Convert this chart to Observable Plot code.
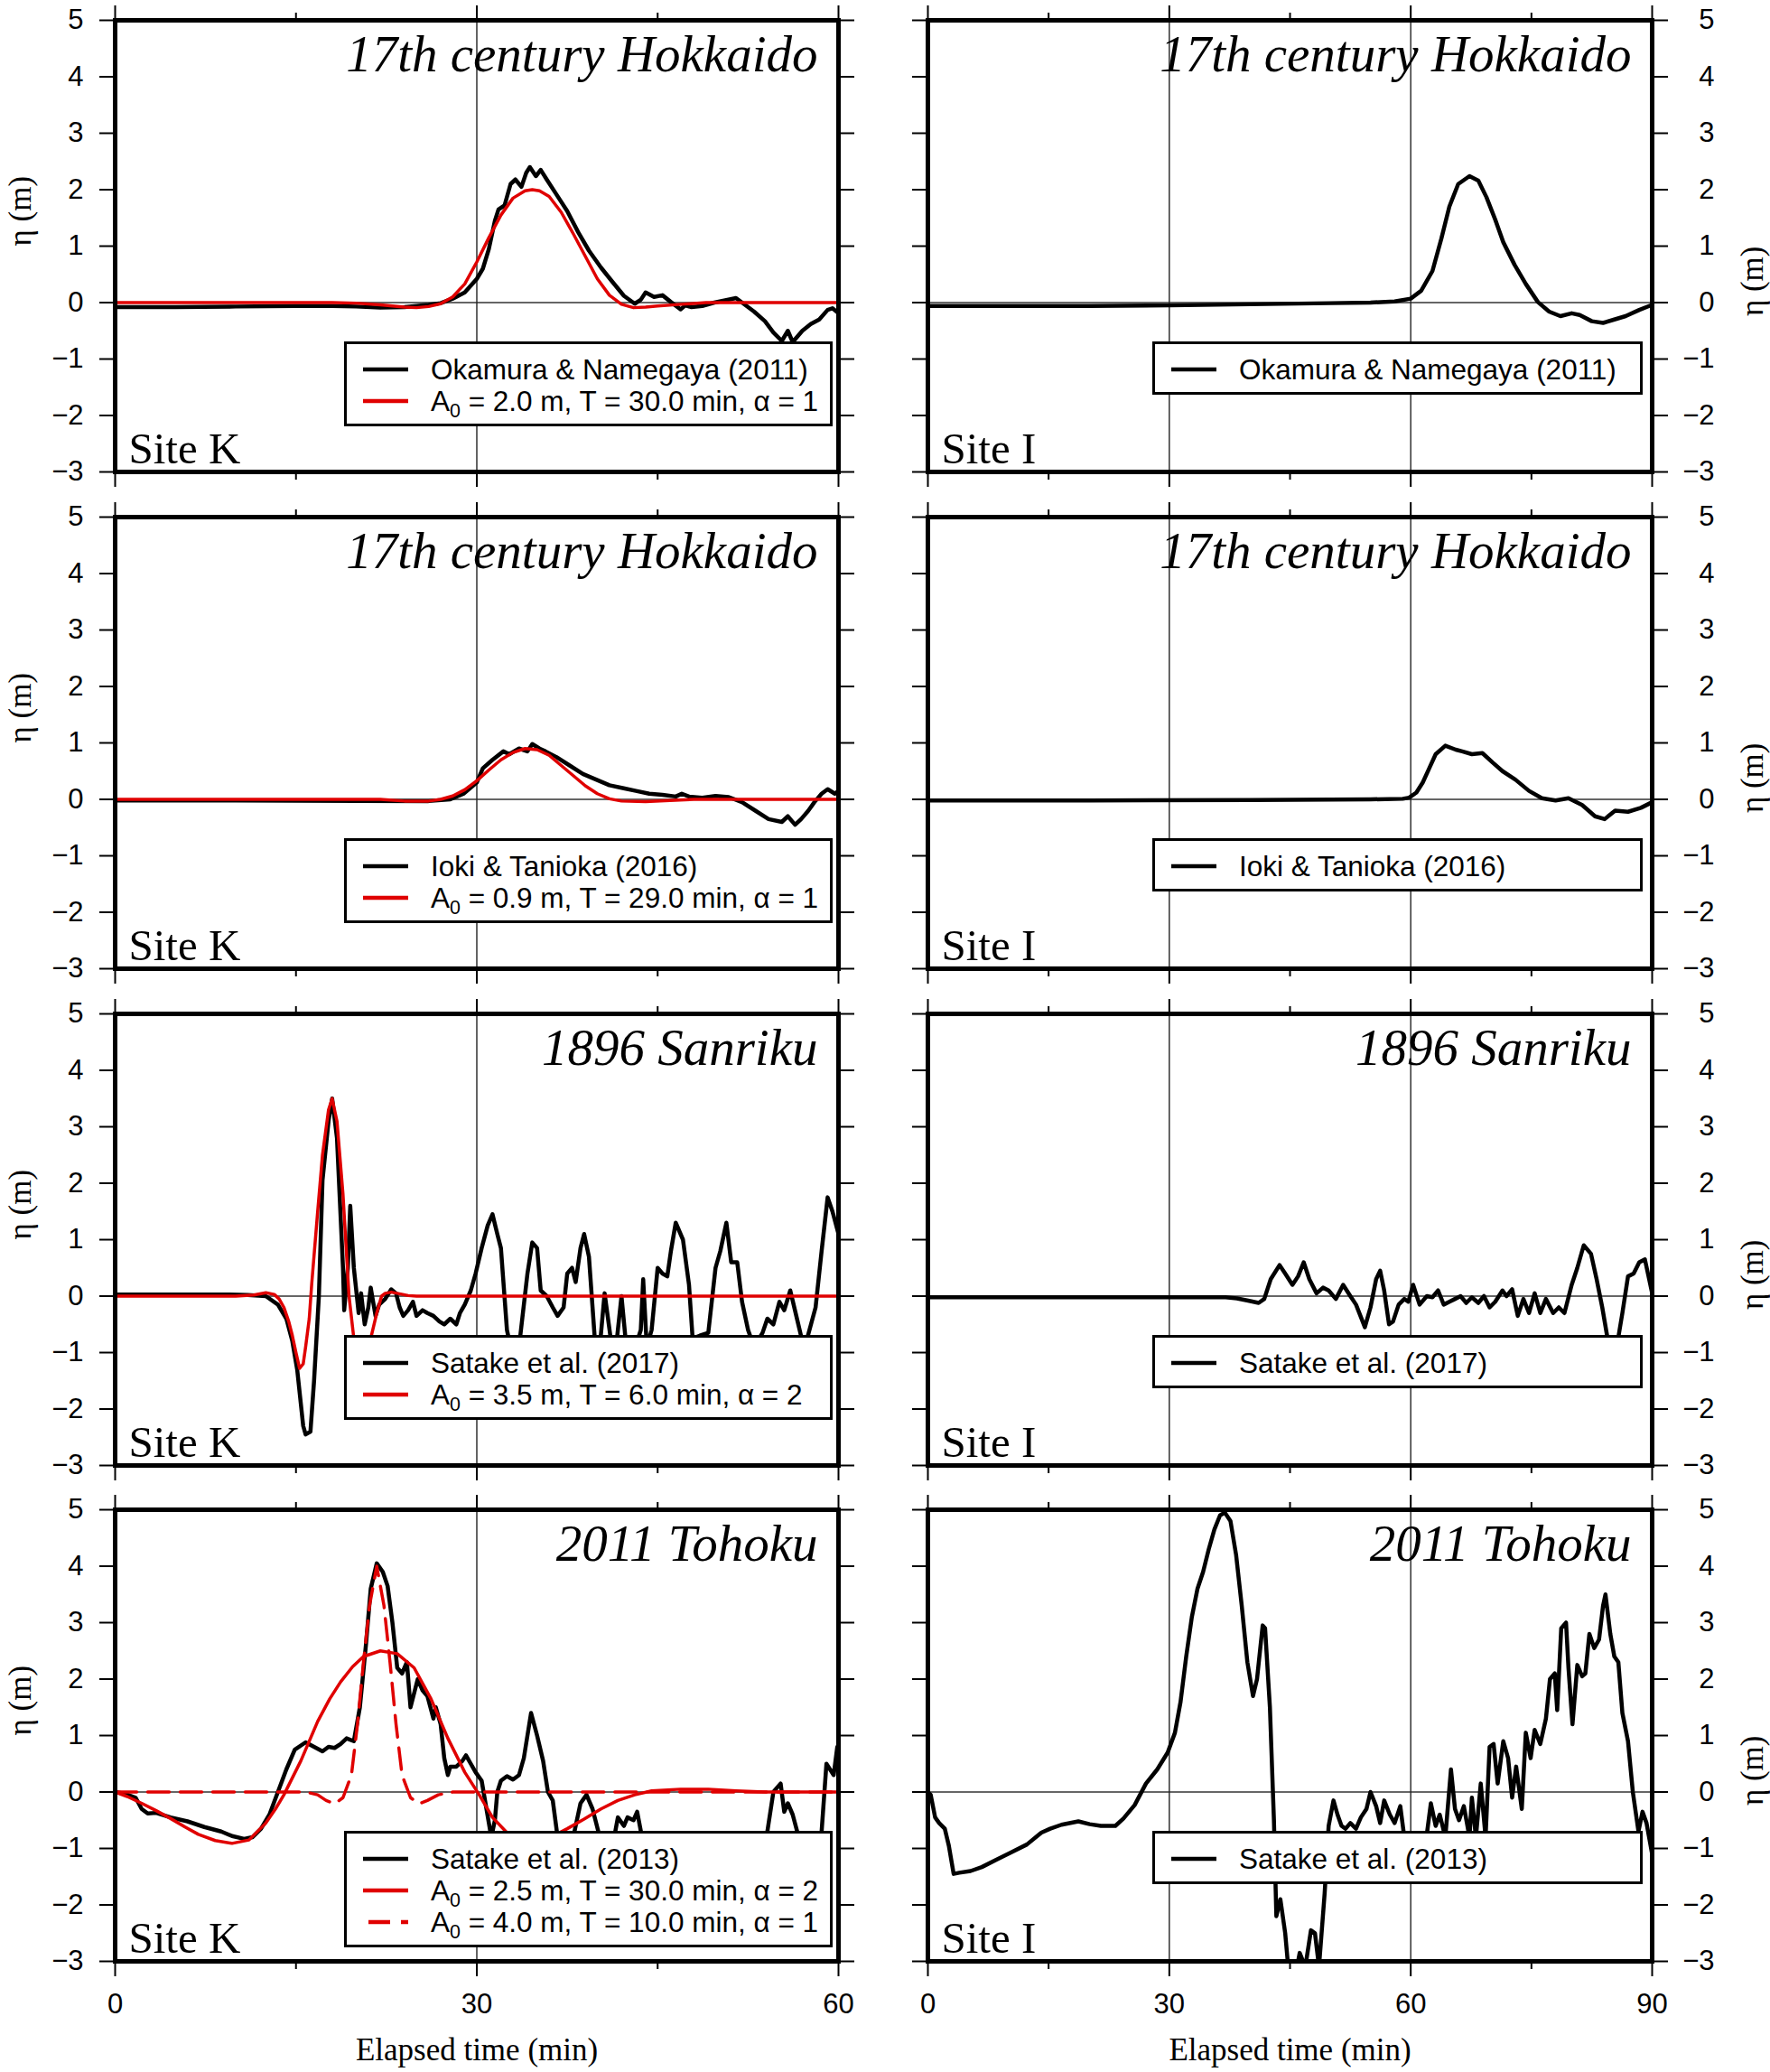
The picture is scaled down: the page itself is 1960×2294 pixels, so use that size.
<!DOCTYPE html>
<html>
<head>
<meta charset="utf-8">
<script src="https://cdn.jsdelivr.net/npm/d3@7"></script>
<script src="https://cdn.jsdelivr.net/npm/@observablehq/plot@0.6"></script>
<style>
  body { margin: 0; background: #fff; }
  #fig { position: relative; width: 1960px; height: 2294px; background: #fff; overflow: hidden; }
  .panel { position: absolute; }
  .legend { position: absolute; background: #fff; border: 3px solid #000; box-sizing: border-box;
            font-family: "Liberation Sans", Arial, sans-serif; font-size: 31.5px; line-height: 35px;
            padding: 11px 0 7px 0; color: #000; }
  .legend .row { position: relative; height: 35px; white-space: nowrap; }
  .legend .row svg { position: absolute; left: 18px; top: 0; }
  .legend .row .t { position: absolute; left: 93px; top: 0; }
  .legend sub { font-size: 0.68em; vertical-align: -0.32em; line-height: 0; }
</style>
</head>
<body>
<div id="fig"></div>
<script>
// ---------------- categories / labels ----------------
const titles = ["17th century Hokkaido", "17th century Hokkaido", "1896 Sanriku", "2011 Tohoku"];
const siteNames = ["Site K", "Site I"];
const yLabel = "η (m)";
const xLabel = "Elapsed time (min)";
const yTicks = [-3, -2, -1, 0, 1, 2, 3, 4, 5];
const xMajorK = [0, 30, 60];
const xMinorK = [15, 45];
const xMajorI = [0, 30, 60, 90];
const xMinorI = [15, 45, 75];
const gridK = [30];
const gridI = [30, 60];
const refLabels = ["Okamura &amp; Namegaya (2011)", "Ioki &amp; Tanioka (2016)", "Satake et al. (2017)", "Satake et al. (2013)"];
const fitLabels = [
  "A<sub>0</sub> = 2.0 m, T = 30.0 min, α = 1",
  "A<sub>0</sub> = 0.9 m, T = 29.0 min, α = 1",
  "A<sub>0</sub> = 3.5 m, T = 6.0 min, α = 2",
  "A<sub>0</sub> = 2.5 m, T = 30.0 min, α = 2",
  "A<sub>0</sub> = 4.0 m, T = 10.0 min, α = 1"
];

// ---------------- series: [time (min), eta (m)] ----------------
const kHokOkamura = [[0,-0.08],[5,-0.08],[10,-0.07],[15,-0.06],[18,-0.06],[20,-0.07],[22,-0.09],[24,-0.08],[25,-0.06],[26,-0.04],[27,-0.01],[28,0.07],[29,0.18],[30,0.42],[30.5,0.6],[31,0.95],[31.5,1.45],[31.8,1.65],[32.3,1.72],[32.8,2.1],[33.2,2.18],[33.7,2.05],[34.1,2.3],[34.4,2.4],[34.9,2.24],[35.3,2.35],[35.8,2.18],[36.5,1.95],[37.5,1.62],[38.4,1.25],[39.3,0.92],[40.3,0.62],[41.2,0.38],[42.2,0.12],[43.1,-0.02],[43.6,0.05],[44,0.18],[44.7,0.1],[45.4,0.13],[46.1,0.01],[46.9,-0.12],[47.3,-0.05],[47.8,-0.08],[48.7,-0.06],[49.7,0.0],[50.6,0.04],[51.5,0.08],[52,0.0],[53,-0.16],[53.9,-0.33],[54.6,-0.53],[55.3,-0.68],[55.8,-0.5],[56.2,-0.7],[57,-0.5],[57.7,-0.38],[58.4,-0.3],[59.1,-0.13],[59.5,-0.1],[60,-0.19]];
const kHokFit1 = [[0,0],[18,0],[20,-0.01],[22,-0.04],[24,-0.08],[25,-0.09],[26,-0.07],[27,-0.02],[28,0.1],[29,0.33],[30,0.72],[31,1.15],[32,1.55],[33,1.85],[34,1.98],[34.6,2.0],[35.2,1.98],[36,1.88],[37,1.6],[38,1.22],[39,0.82],[40,0.42],[41,0.13],[42,-0.03],[43,-0.09],[44,-0.08],[45,-0.06],[47,-0.03],[49,0],[60,0]];
const iHokOkamura = [[0,-0.06],[10,-0.06],[20,-0.06],[30,-0.05],[40,-0.03],[50,-0.01],[55,0.0],[58,0.02],[60,0.07],[61.3,0.21],[62.7,0.56],[63.8,1.13],[64.8,1.7],[65.9,2.1],[67.3,2.24],[68.4,2.16],[69.4,1.87],[70.5,1.47],[71.5,1.07],[72.9,0.67],[74.3,0.33],[75.8,0.01],[77.2,-0.16],[78.6,-0.24],[80,-0.19],[81,-0.22],[82.5,-0.33],[83.9,-0.36],[85.3,-0.3],[86.7,-0.24],[88.4,-0.13],[90,-0.04]];

const kHokIoki = [[0,-0.02],[10,-0.02],[20,-0.03],[26,-0.03],[27.8,0.0],[28.9,0.1],[30,0.3],[30.5,0.55],[31.3,0.7],[32.2,0.85],[32.7,0.8],[33.5,0.9],[34.2,0.85],[34.6,0.98],[35.2,0.9],[35.7,0.85],[36.6,0.75],[37.7,0.6],[38.8,0.45],[39.9,0.35],[41,0.25],[42.1,0.2],[43.2,0.15],[44.3,0.1],[45.4,0.08],[46.5,0.05],[47,0.1],[47.6,0.05],[48.7,0.03],[49.8,0.06],[50.9,0.04],[52,-0.05],[53.1,-0.2],[54.2,-0.35],[55.3,-0.4],[55.8,-0.3],[56.4,-0.45],[56.9,-0.35],[57.5,-0.2],[58,-0.05],[58.6,0.1],[59.1,0.18],[59.7,0.1],[60,0.15]];
const kHokFit2 = [[0,0],[22,0],[24,-0.03],[26,-0.03],[27,0],[28,0.06],[29,0.17],[30,0.33],[31,0.52],[32,0.7],[33,0.83],[34,0.9],[35,0.88],[36,0.78],[37,0.6],[38,0.42],[39,0.24],[40,0.1],[41,0.01],[42,-0.03],[44,-0.04],[46,-0.02],[48,0],[60,0]];
const iHokIoki = [[0,-0.02],[20,-0.02],[40,-0.01],[55,0.0],[59,0.01],[59.8,0.03],[60.7,0.12],[61.5,0.3],[62.3,0.55],[63.1,0.8],[64.3,0.95],[65.6,0.88],[66.4,0.85],[67.6,0.8],[68.9,0.82],[70.2,0.65],[71.4,0.5],[73,0.35],[74.7,0.15],[76.3,0.02],[78,-0.02],[79.6,0.02],[81.3,-0.1],[82.9,-0.3],[84.1,-0.35],[85.4,-0.2],[87,-0.22],[88.6,-0.15],[90,-0.05]];

const kSanSatake = [[0,0.03],[5,0.03],[9,0.03],[11,0.02],[12.5,0.0],[13.5,-0.15],[14.2,-0.4],[14.7,-0.8],[15.1,-1.3],[15.6,-2.3],[15.8,-2.45],[16.2,-2.4],[16.5,-1.5],[16.9,0.0],[17.2,2.05],[17.7,3.1],[18.0,3.5],[18.4,2.8],[18.9,0.5],[19.0,-0.25],[19.3,0.5],[19.5,1.6],[19.8,0.5],[20.2,-0.3],[20.4,0.05],[20.7,-0.5],[21.0,-0.2],[21.2,0.15],[21.6,-0.35],[21.9,-0.15],[22.4,-0.05],[22.9,0.12],[23.3,0.05],[23.6,-0.2],[23.9,-0.35],[24.3,-0.25],[24.7,-0.1],[25.0,-0.35],[25.5,-0.25],[25.9,-0.3],[26.4,-0.35],[26.9,-0.45],[27.3,-0.5],[27.8,-0.4],[28.3,-0.5],[28.6,-0.3],[29.0,-0.15],[29.5,0.1],[29.9,0.4],[30.4,0.85],[30.9,1.25],[31.3,1.45],[31.7,1.1],[32.0,0.85],[32.5,-0.6],[33.0,-1.1],[33.5,-0.9],[34.2,0.4],[34.6,0.95],[35.0,0.85],[35.3,0.1],[35.8,0.0],[36.3,-0.2],[36.7,-0.35],[37.2,-0.2],[37.5,0.4],[37.9,0.5],[38.2,0.25],[38.6,0.85],[38.9,1.1],[39.3,0.7],[39.8,-0.8],[40.2,-0.9],[40.6,0.05],[41.2,-0.9],[41.6,-0.8],[42.0,0.0],[42.4,-0.9],[43.0,-1.0],[43.6,-0.6],[43.8,0.3],[44.1,-0.9],[44.5,-0.6],[45.0,0.5],[45.4,0.4],[45.8,0.35],[46.1,0.8],[46.5,1.3],[47.1,1.0],[47.6,0.2],[47.9,-0.75],[48.5,-0.7],[49.2,-0.65],[49.8,0.5],[50.2,0.8],[50.7,1.3],[51.1,0.6],[51.6,0.6],[52.0,-0.1],[52.5,-0.6],[53.0,-0.9],[53.7,-0.65],[54.1,-0.4],[54.6,-0.5],[55.1,-0.1],[55.5,-0.25],[56.0,0.1],[56.5,-0.35],[57.0,-0.8],[57.4,-0.75],[58.1,-0.2],[58.6,0.8],[59.1,1.75],[59.5,1.5],[60,1.1]];
const kSanFit = [[0,0],[10,0],[11.5,0.02],[12.5,0.06],[13.2,0.03],[13.6,-0.05],[14,-0.2],[14.4,-0.45],[14.7,-0.7],[15.0,-1.0],[15.3,-1.28],[15.6,-1.2],[15.8,-0.9],[16.1,-0.4],[16.3,0.2],[16.8,1.5],[17.2,2.5],[17.7,3.3],[18.0,3.5],[18.4,3.1],[18.9,1.8],[19.4,0.0],[19.8,-0.75],[20.3,-1.1],[20.7,-1.15],[21.2,-0.75],[21.7,-0.3],[22.1,0.0],[22.4,0.05],[22.9,0.07],[23.4,0.05],[24.3,0.01],[25,0],[60,0]];
const iSanSatake = [[0,-0.02],[20,-0.02],[30,-0.02],[37,-0.02],[38.4,-0.04],[39.8,-0.08],[41.1,-0.12],[41.8,-0.05],[42.6,0.3],[43.7,0.55],[44.4,0.4],[45.3,0.2],[46,0.35],[46.7,0.6],[47.4,0.3],[48.3,0.05],[49.1,0.15],[49.8,0.1],[50.7,-0.05],[51.6,0.2],[52.5,0.0],[53.2,-0.15],[54.3,-0.55],[55,-0.2],[55.7,0.3],[56.2,0.45],[56.7,0.1],[57.3,-0.5],[57.8,-0.45],[58.5,-0.15],[59.2,-0.05],[59.7,-0.1],[60.3,0.2],[61.1,-0.15],[62,0.0],[62.7,-0.02],[63.4,0.1],[64.1,-0.15],[64.8,-0.1],[65.5,-0.05],[66.2,0.0],[66.9,-0.12],[67.6,-0.02],[68.4,-0.12],[69.1,0.0],[69.8,-0.2],[70.5,-0.1],[71.4,0.1],[71.9,0.0],[72.6,0.12],[73.3,-0.35],[74,-0.05],[74.7,-0.3],[75.4,0.05],[76.1,-0.3],[76.8,-0.05],[77.7,-0.3],[78.4,-0.2],[79.1,-0.3],[80,0.2],[80.7,0.5],[81.5,0.9],[82.4,0.75],[83.1,0.3],[83.8,-0.2],[84.4,-0.7],[85,-1.1],[85.6,-0.9],[86.3,-0.3],[87,0.35],[87.7,0.4],[88.4,0.6],[89.1,0.65],[90,0.05]];

const kTohSatake = [[0,0],[0.8,-0.03],[1.7,-0.1],[2.2,-0.3],[2.7,-0.38],[3.4,-0.37],[4.6,-0.45],[6,-0.52],[7.4,-0.62],[8.8,-0.7],[9.7,-0.78],[10.7,-0.83],[11.4,-0.8],[12.1,-0.65],[12.8,-0.4],[13.5,0.0],[14.2,0.4],[14.9,0.75],[15.8,0.88],[16.5,0.8],[17.2,0.72],[17.7,0.8],[18.2,0.78],[18.7,0.85],[19.2,0.95],[19.8,0.9],[20.3,1.5],[20.8,2.6],[21.2,3.6],[21.7,4.05],[22.2,3.9],[22.6,3.65],[23.0,3.0],[23.4,2.2],[23.8,2.1],[24.2,2.3],[24.5,1.5],[25.1,2.0],[25.5,1.8],[25.9,1.7],[26.4,1.3],[26.6,1.5],[27.0,1.2],[27.3,0.6],[27.6,0.3],[27.8,0.45],[28.3,0.45],[28.8,0.55],[29.1,0.65],[29.5,0.5],[29.9,0.35],[30.4,0.2],[30.8,-0.3],[31.2,-0.8],[31.5,-0.5],[31.7,0.0],[32.0,0.2],[32.5,0.28],[33.0,0.22],[33.5,0.3],[33.9,0.6],[34.5,1.4],[35.0,1.0],[35.5,0.55],[35.9,0.0],[36.3,-0.15],[36.7,-0.8],[37.2,-1.1],[37.8,-1.0],[38.6,-0.2],[39.1,-0.05],[39.6,-0.3],[40.2,-0.8],[40.8,-1.0],[41.4,-0.8],[41.7,-0.45],[42.2,-0.6],[42.5,-0.45],[43.0,-0.5],[43.3,-0.35],[43.7,-0.8],[44.5,-1.2],[46,-1.4],[48,-1.3],[50,-1.5],[52,-1.2],[53.6,-0.9],[54.1,-0.7],[54.6,0.0],[55.2,0.15],[55.5,-0.35],[55.8,-0.2],[56.2,-0.4],[56.7,-0.8],[57.5,-1.0],[58.3,-0.9],[58.6,-0.7],[59.0,0.5],[59.3,0.4],[59.6,0.3],[59.9,0.8],[60,0.8]];
const kTohFitLong = [[0,0],[1,-0.08],[2.2,-0.2],[3.4,-0.33],[4.6,-0.47],[5.8,-0.62],[6.9,-0.75],[8.3,-0.86],[9.7,-0.91],[11.1,-0.85],[12.5,-0.55],[13.3,-0.3],[14,-0.05],[15.4,0.55],[16.8,1.25],[17.8,1.65],[18.7,1.95],[19.7,2.22],[20.6,2.4],[22,2.5],[23.4,2.45],[24.8,2.2],[26.2,1.65],[27.6,0.95],[29,0.35],[30.2,-0.05],[31.3,-0.45],[32.5,-0.72],[33.5,-0.85],[34.5,-0.9],[35.5,-0.85],[36.5,-0.76],[37.5,-0.65],[38.9,-0.48],[40.3,-0.3],[41.7,-0.15],[43.1,-0.05],[44.5,0.02],[46.9,0.05],[49.2,0.05],[51.5,0.02],[53.9,0],[60,0]];
const kTohFitShort = [[0,0],[14,0],[15.8,0],[16.8,-0.05],[17.5,-0.15],[18.2,-0.21],[18.9,-0.1],[19.6,0.3],[20.1,1.2],[20.6,2.3],[21.1,3.3],[21.7,4.0],[22.3,3.3],[22.8,2.3],[23.3,1.2],[23.8,0.3],[24.5,-0.1],[25.2,-0.21],[25.9,-0.15],[26.8,-0.05],[28,0],[60,0]];
const iTohSatake = [[0,0],[0.35,-0.05],[0.9,-0.45],[1.4,-0.55],[2.1,-0.65],[2.6,-0.95],[3.2,-1.45],[3.9,-1.43],[5.3,-1.4],[6.7,-1.33],[8.5,-1.2],[10.2,-1.08],[12.3,-0.93],[14.1,-0.72],[15.2,-0.65],[16.6,-0.58],[18.7,-0.52],[20.1,-0.57],[21.5,-0.6],[23.3,-0.6],[24.3,-0.47],[25.7,-0.23],[27.1,0.15],[28.5,0.4],[29.8,0.7],[30.7,1.05],[31.4,1.6],[32.1,2.4],[32.8,3.1],[33.5,3.6],[34.2,3.9],[34.9,4.3],[35.6,4.65],[36.3,4.9],[36.9,4.95],[37.6,4.8],[38.3,4.2],[39,3.3],[39.7,2.3],[40.4,1.7],[40.9,2.0],[41.6,2.95],[41.9,2.9],[42.5,1.5],[43.0,-0.5],[43.3,-2.2],[43.8,-1.9],[44.4,-2.5],[44.9,-3.3],[45.6,-3.3],[46.2,-2.85],[46.9,-3.1],[47.6,-2.45],[48.1,-2.5],[48.6,-3.1],[49.3,-1.8],[49.8,-0.6],[50.4,-0.15],[50.9,-0.4],[51.4,-0.6],[51.9,-0.65],[52.5,-0.55],[53.2,-0.65],[53.8,-0.45],[54.5,-0.3],[55,0.0],[55.7,-0.25],[56.2,-0.55],[56.7,-0.15],[57.4,-0.4],[58,-0.55],[58.7,-0.25],[59.2,-0.8],[60,-0.9],[61,-0.85],[62,-0.75],[62.5,-0.2],[63.1,-0.6],[63.6,-0.4],[64.3,-0.8],[65,0.4],[65.5,-0.3],[66,-0.5],[66.6,-0.25],[67.3,-0.8],[67.6,-0.1],[68.1,-0.8],[68.7,0.15],[69.3,-0.8],[69.8,0.8],[70.3,0.85],[70.8,0.15],[71.5,0.9],[72.1,0.6],[72.6,-0.1],[73.1,0.45],[73.8,-0.3],[74.3,1.05],[74.9,0.6],[75.4,1.1],[76.1,0.85],[76.8,1.3],[77.3,2.0],[77.9,2.1],[78.2,1.45],[78.7,2.9],[79.3,3.0],[79.6,2.2],[80.1,1.2],[80.7,2.25],[81.3,2.05],[81.7,2.1],[82.2,2.8],[82.8,2.55],[83.4,2.7],[83.9,3.3],[84.2,3.5],[84.8,2.8],[85.3,2.4],[85.8,2.3],[86.3,1.4],[87,0.9],[87.6,0.0],[88.3,-0.7],[88.8,-0.35],[89.3,-0.55],[90,-1.1]];

// ---------------- layout ----------------
const rowTops = [22, 572, 1122, 1671];
const fig = document.getElementById("fig");
const SANS = "Liberation Sans, Arial, Helvetica, sans-serif";
const SERIF = "Liberation Serif, Times New Roman, serif";
const styles = {
  obs: {stroke: "#000", strokeWidth: 4.5},
  fit: {stroke: "#e00000", strokeWidth: 3.5},
  fitDash: {stroke: "#e00000", strokeWidth: 3.5, strokeDasharray: "24,12"}
};

const panels = [
  {row: 0, col: 0, lines: [[kHokOkamura, "obs"], [kHokFit1, "fit"]], legend: [[refLabels[0], "obs"], [fitLabels[0], "fit"]]},
  {row: 0, col: 1, lines: [[iHokOkamura, "obs"]], legend: [[refLabels[0], "obs"]]},
  {row: 1, col: 0, lines: [[kHokIoki, "obs"], [kHokFit2, "fit"]], legend: [[refLabels[1], "obs"], [fitLabels[1], "fit"]]},
  {row: 1, col: 1, lines: [[iHokIoki, "obs"]], legend: [[refLabels[1], "obs"]]},
  {row: 2, col: 0, lines: [[kSanSatake, "obs"], [kSanFit, "fit"]], legend: [[refLabels[2], "obs"], [fitLabels[2], "fit"]]},
  {row: 2, col: 1, lines: [[iSanSatake, "obs"]], legend: [[refLabels[2], "obs"]]},
  {row: 3, col: 0, lines: [[kTohSatake, "obs"], [kTohFitLong, "fit"], [kTohFitShort, "fitDash"]], legend: [[refLabels[3], "obs"], [fitLabels[3], "fit"], [fitLabels[4], "fitDash"]]},
  {row: 3, col: 1, lines: [[iTohSatake, "obs"]], legend: [[refLabels[3], "obs"]]}
];

const blank = () => "";
const intFmt = d3.format("d");

for (const p of panels) {
  const left = p.col === 0;
  const bottom = p.row === 3;
  const xMax = left ? 60 : 90;
  const xMajor = left ? xMajorK : xMajorI;
  const xMinor = left ? xMinorK : xMinorI;
  const height = bottom ? 645 : 547;
  const marks = [
    Plot.ruleY([0], {stroke: "#333", strokeWidth: 1.4}),
    Plot.ruleX(left ? gridK : gridI, {stroke: "#222", strokeWidth: 1.4}),
    ...p.lines.map(([data, s]) => Plot.line(data, {x: d => d[0], y: d => d[1], ...styles[s], clip: true, strokeLinejoin: "round"})),
    Plot.frame({stroke: "#000", strokeWidth: 5}),
    Plot.axisX(xMajor, {anchor: "bottom", tickSize: 17, strokeWidth: 2, tickPadding: 18, fontSize: 31, fontFamily: SANS, tickFormat: bottom ? intFmt : blank, label: null}),
    Plot.axisX(xMinor, {anchor: "bottom", tickSize: 9, strokeWidth: 2, tickFormat: blank, label: null}),
    Plot.axisX(xMajor, {anchor: "top", tickSize: 17, strokeWidth: 2, tickFormat: blank, label: null}),
    Plot.axisX(xMinor, {anchor: "top", tickSize: 9, strokeWidth: 2, tickFormat: blank, label: null}),
    Plot.axisY(yTicks, {anchor: "left", tickSize: 17, strokeWidth: 2, tickPadding: 18, fontSize: 31, fontFamily: SANS, tickFormat: left ? intFmt : blank, label: null}),
    Plot.axisY(yTicks, {anchor: "right", tickSize: 17, strokeWidth: 2, tickPadding: 52, textAnchor: "end", fontSize: 31, fontFamily: SANS, tickFormat: left ? blank : intFmt, label: null}),
    Plot.text([titles[p.row]], {text: d => d, frameAnchor: "top-right", textAnchor: "end", lineAnchor: "bottom", dx: -23, dy: 56, fontSize: 57, fontFamily: SERIF, fontStyle: "italic"}),
    Plot.text([siteNames[p.col]], {text: d => d, frameAnchor: "bottom-left", textAnchor: "start", lineAnchor: "bottom", dx: 15, dy: -10, fontSize: 49, fontFamily: SERIF}),
    Plot.text([yLabel], {text: d => d, frameAnchor: left ? "left" : "right", rotate: -90, dx: left ? -105 : 111, fontSize: 35, fontFamily: SERIF})
  ];
  if (bottom) {
    marks.push(Plot.text([xLabel], {text: d => d, frameAnchor: "bottom", lineAnchor: "bottom", dy: 109, fontSize: 35, fontFamily: SERIF}));
  }
  const chart = Plot.plot({
    width: 980,
    height,
    marginTop: 22,
    marginBottom: height - 522,
    marginLeft: left ? 127 : 47,
    marginRight: left ? 52 : 131,
    x: {domain: [0, xMax], axis: null, label: null},
    y: {domain: [-3, 5], axis: null, label: null},
    style: {background: "transparent", overflow: "visible", fontFamily: SANS, color: "#000"},
    marks
  });
  const wrap = document.createElement("div");
  wrap.className = "panel";
  wrap.style.left = (left ? 0 : 980) + "px";
  wrap.style.top = (rowTops[p.row] - 22) + "px";
  wrap.appendChild(chart);
  fig.appendChild(wrap);

  // legend box
  const lg = document.createElement("div");
  lg.className = "legend";
  lg.style.left = (left ? 381 : 1276) + "px";
  lg.style.width = (left ? 541 : 543) + "px";
  lg.style.top = (rowTops[p.row] + 356) + "px";
  for (const [label, s] of p.legend) {
    const st = styles[s];
    const row = document.createElement("div");
    row.className = "row";
    const dash = s === "fitDash" ? `stroke-dasharray="24,12" stroke-dashoffset="30"` : "";
    row.innerHTML = `<svg width="52" height="35"><line x1="0" x2="50" y1="17" y2="17" stroke="${st.stroke}" stroke-width="4.5" ${dash}/></svg><span class="t">${label}</span>`;
    lg.appendChild(row);
  }
  fig.appendChild(lg);
}
</script>
</body>
</html>
